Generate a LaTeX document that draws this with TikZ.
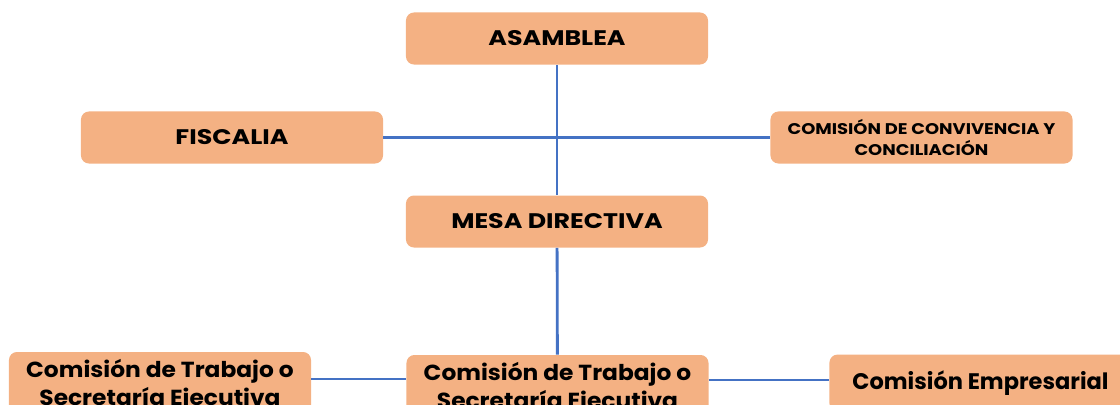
\documentclass[tikz,border=0pt]{standalone}
\usepackage{fontspec}
\setmainfont{Poppins}
\newfontfamily\capsfont[FakeStretch=1.2]{Poppins}
\newfontfamily\smallcapsfont[FakeStretch=1.16]{Poppins}
\newfontfamily\lowerfont[FakeStretch=1.07]{Poppins}
\definecolor{boxfill}{HTML}{F4B183}
\definecolor{linkblue}{HTML}{4472C4}
\begin{document}
\begin{tikzpicture}[x=0.025cm, y=-0.025cm,
    orgbox/.style={fill=boxfill, rounded corners=0.2cm, minimum width=7.55cm, minimum height=1.3cm, inner sep=0pt, align=center},
    link/.style={color=linkblue, line width=2pt}]
          \useasboundingbox (0,0) rectangle (1120,404);
          \node [orgbox, font=\capsfont\bfseries\fontsize{15}{18}\selectfont] (asamblea) at (557,38.5) {ASAMBLEA};
          \node [orgbox, font=\capsfont\bfseries\fontsize{15}{18}\selectfont] (fiscalia) at (232,137.5) {FISCALIA};
          \node [orgbox, font=\smallcapsfont\bfseries\fontsize{11}{15}\selectfont] (convivencia) at (921.5,137.5) {COMISIÓN DE CONVIVENCIA Y\\CONCILIACIÓN};
          \node [orgbox, font=\capsfont\bfseries\fontsize{15}{18}\selectfont] (mesa) at (557,221.5) {MESA DIRECTIVA};
          \node [orgbox, minimum height=1.65cm, font=\lowerfont\bfseries\fontsize{15.5}{20}\selectfont] (trabajoa) at (160,385) {Comisión de Trabajo o\\Secretaría Ejecutiva};
          \node [orgbox, minimum height=1.65cm, font=\lowerfont\bfseries\fontsize{15.5}{20}\selectfont] (trabajob) at (557.5,388) {Comisión de Trabajo o\\Secretaría Ejecutiva};
          \node [orgbox, minimum height=1.42cm, font=\bfseries\fontsize{16}{19}\selectfont] (empresarial) at (980.5,383) {Comisión Empresarial};
\draw[link] (asamblea) -- (mesa);
\draw[link] (fiscalia) -- (convivencia);
\draw[link] (mesa) -- (trabajob);
\draw[link] ([yshift=0.15cm]trabajoa.east) -- ([yshift=0.15cm]trabajoa.east -| trabajob.west);
\draw[link] ([yshift=0.2cm]trabajob.east) -- ([yshift=0.2cm]trabajob.east -| empresarial.west);
        \end{tikzpicture}
\end{document}
